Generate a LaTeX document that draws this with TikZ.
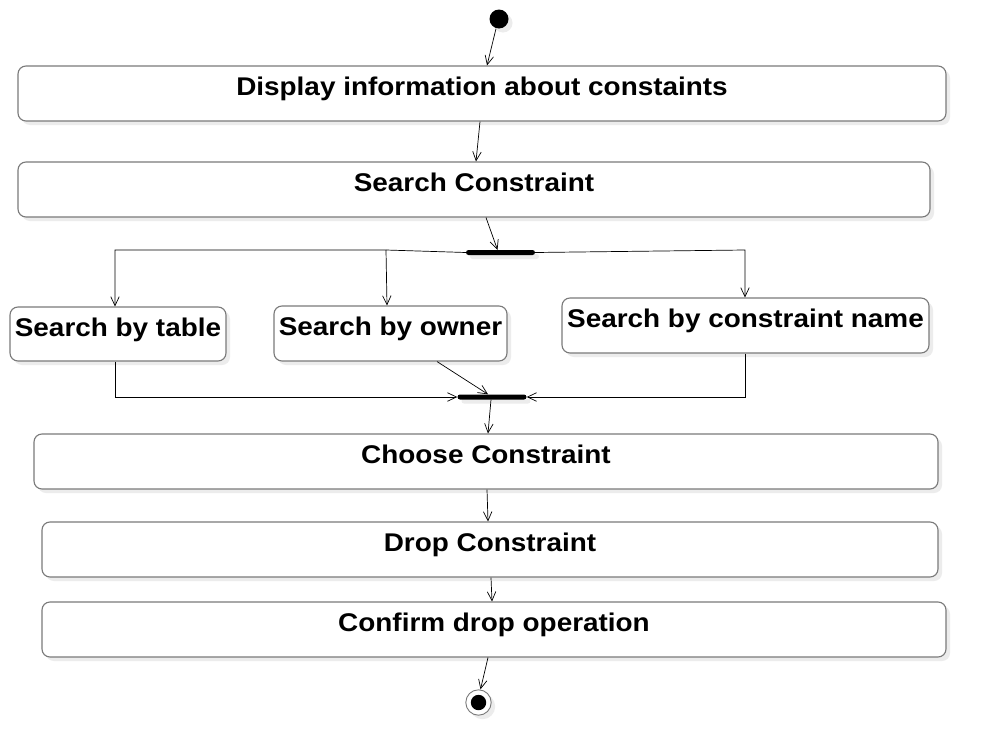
\documentclass[tikz,border=0pt]{standalone}
\usepackage{fontspec}
\setmainfont{Liberation Sans}[FakeStretch=1.09]
\usetikzlibrary{arrows.meta,shadows}
\definecolor{boxgray}{RGB}{122,122,122}
\definecolor{shadowgray}{RGB}{236,236,236}
\tikzset{
  shad/.style={drop shadow={shadow xshift=4pt,shadow yshift=-4pt,fill=shadowgray,opacity=1}},
  actbox/.style={draw=boxgray, line width=1.1pt, fill=white, rounded corners=8pt,
    inner sep=0pt, shad, font=\fontsize{25.6}{30}\bfseries\selectfont,
    text height=20pt, text depth=16pt},
  barnode/.style={fill=black, rounded corners=2.5pt, minimum width=69pt,
    minimum height=5pt, inner sep=0pt, shad},
  startnode/.style={circle, fill=black, minimum size=19pt, inner sep=0pt, shad},
  endnode/.style={circle, draw=boxgray, line width=0.9pt, fill=white, minimum size=25.4pt,
    inner sep=0pt, shad,
    path picture={\fill[black] (path picture bounding box.center) circle (7.7pt);}},
  arr/.style={-{Straight Barb[length=9pt,width=8.5pt]}, line width=0.7pt, black},
  line/.style={line width=0.7pt, black}
}
\begin{document}
\begin{tikzpicture}[x=1pt,y=-1pt]
\useasboundingbox (0,0) rectangle (986,755);
\fill[white] (0,0) rectangle (986,755);

\node[startnode] (start) at (499,19) {};
\node[actbox, minimum width=928pt, minimum height=55pt] (b1) at (482,93.5) {Display information about constaints};
\node[actbox, minimum width=912pt, minimum height=55pt] (b2) at (474,189.5) {Search Constraint};
\node[barnode] (bar1) at (500.5,252.5) {};
\node[actbox, minimum width=216pt, minimum height=54pt] (tab) at (118,334) {Search by table};
\node[actbox, minimum width=233pt, minimum height=55pt] (own) at (390.5,333.5) {Search by owner};
\node[actbox, minimum width=367pt, minimum height=55pt] (nam) at (745.5,325.5) {Search by constraint name};
\node[barnode] (bar2) at (492,397) {};
\node[actbox, minimum width=904pt, minimum height=55pt] (cho) at (486,461.5) {Choose Constraint};
\node[actbox, minimum width=896pt, minimum height=55pt] (drp) at (490,549.5) {Drop Constraint};
\node[actbox, minimum width=904pt, minimum height=55pt] (cnf) at (494,629.5) {Confirm drop operation};
\node[endnode] (fin) at (478.5,702.5) {};

\coordinate (f1) at (386,250);
\coordinate (f2) at (745,250);

\draw[arr] ([xshift=-3pt]start.south) -- ([xshift=5pt]b1.north);
\draw[arr] ([xshift=-2pt]b1.south) -- ([xshift=2pt]b2.north);
\draw[arr] ([xshift=12pt]b2.south) -- ([xshift=-3pt]bar1.north);
\draw[arr] (bar1.west) -- (f1) -| ([xshift=-3pt]tab.north);
\draw[arr] (f1) -- ([xshift=-3.5pt]own.north);
\draw[arr] (bar1.east) -- (f2) -- ([xshift=-0.5pt]nam.north);
\draw[arr] ([xshift=-3pt]tab.south) |- (bar2.west);
\draw[arr] ([xshift=46.5pt]own.south) -- ([xshift=-4pt]bar2.north);
\draw[arr] ([xshift=-0.5pt]nam.south) |- (bar2.east);
\draw[arr] ([xshift=-1pt]bar2.south) -- ([xshift=2pt]cho.north);
\draw[arr] ([xshift=1pt]cho.south) -- ([xshift=-2pt]drp.north);
\draw[arr] ([xshift=1pt]drp.south) -- ([xshift=-2pt]cnf.north);
\draw[arr] ([xshift=-6pt]cnf.south) -- ([xshift=2pt]fin.north);
\end{tikzpicture}
\end{document}
